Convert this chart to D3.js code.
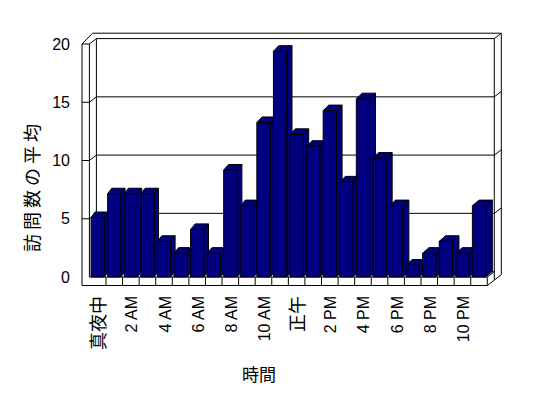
<!DOCTYPE html>
<html>
<head>
<meta charset="utf-8">
<script src="https://cdn.jsdelivr.net/npm/d3@7"></script>
<style>
  body { margin: 0; background: #fff; }
  text { font-family: "Liberation Sans", "Noto Sans CJK JP", sans-serif; fill: #000; }
</style>
</head>
<body>
<svg width="548" height="398"></svg>
<script>
// average visits per hour of the day
const hours = ['真夜中', '1 AM', '2 AM', '3 AM', '4 AM', '5 AM', '6 AM', '7 AM',
               '8 AM', '9 AM', '10 AM', '11 AM', '正午', '1 PM', '2 PM', '3 PM',
               '4 PM', '5 PM', '6 PM', '7 PM', '8 PM', '9 PM', '10 PM', '11 PM'];
const visits = [5, 7, 7, 7, 3, 2, 4, 2, 9, 6, 13, 19, 12, 11, 14, 8, 15, 10, 6, 1, 2, 3, 2, 6];
const yTicks = [0, 5, 10, 15, 20];
const yTitle = '訪問数の平均';
const xTitle = '時間';

// fake 3d: depth offset of walls, wall / floor thickness
const DX = 7, DY = -5.4;
const T = 7.4, FT = 8.5;
const BAR_DY = -5.6;

const svg = d3.select('svg');

const x = d3.scaleBand().domain(hours).range([89.4, 487.3])
            .paddingInner(0.2).paddingOuter(0.1);
const yFront = d3.scaleLinear().domain([0, 20]).range([277, 44]);
// bars sit a bit forward so they come out slightly taller (perspective)
const yBar = d3.scaleLinear().domain([0, 20]).range([277, 39.4]);

const X0 = x.range()[0], X1 = x.range()[1];
const y0 = yFront(0), yTop = yFront(20);

function line(g, pts){
    g.append('path').attr('d', d3.line()(pts))
     .attr('fill', 'none').attr('stroke', '#000').attr('stroke-width', 1);
}

function drawFrame(){
    let g = svg.append('g').attr('class', 'frame');
    // walls / floor white faces
    g.append('path').attr('fill', '#fff').attr('d', d3.line()([
        [X0 - T, yTop], [X0 - T + 1.5*DX, yTop + 2*DY], [X1 + 2*DX, yTop + 2*DY],
        [X1 + 2*DX, y0 + FT + 2*DY], [X1, y0 + FT], [X0 - T, y0 + FT]]) + 'Z');

    // top outline of the wall slabs
    line(g, [[X0 - T, y0 + FT], [X0 - T, yTop], [X0 - T + 1.5*DX, yTop + 2*DY],
             [X1 + 2*DX, yTop + 2*DY], [X1 + DX, yTop + DY]]);
    line(g, [[X0 - T, yTop], [X0, yTop], [X0 + DX, yTop + DY], [X1 + DX, yTop + DY]]);
    // inner edges
    line(g, [[X0, yTop], [X0, y0]]);
    line(g, [[X0 + DX, yTop + DY], [X0 + DX, y0 + DY]]);
    line(g, [[X1 + DX, yTop + DY], [X1 + DX, y0 + FT + DY]]);
    line(g, [[X1 + 2*DX, yTop + 2*DY], [X1 + 2*DX, y0 + FT + 2*DY]]);

    // gridlines: front tick, left wall, back wall, right side of back wall
    yTicks.forEach(v => {
        let yy = yFront(v);
        if (v > 0 && v < 20) {
            line(g, [[X0 - T, yy], [X0, yy]]);
            line(g, [[X0, yy], [X0 + DX, yy + DY], [X1 + DX, yy + DY],
                     [X1 + 2*DX, yy + 2*DY]]);
        }
    });
    line(g, [[X0 + DX, y0 + DY], [X1 + DX, y0 + DY]]);

    // floor slab
    line(g, [[X0, y0], [X1, y0]]);
    line(g, [[X0 - T, y0 + FT], [X1, y0 + FT]]);
    hours.forEach((h, i) => {
        let xx = X0 + x.step() * (i + 1);
        line(g, [[xx, y0], [xx, y0 + FT]]);
    });
    line(g, [[X1, y0], [X1 + DX, y0 + DY]]);
    line(g, [[X1, y0 + FT], [X1 + DX, y0 + FT + DY], [X1 + 2*DX, y0 + FT + 2*DY]]);
}

function drawBars(){
    let w = x.bandwidth();
    // side gets a bit wider to the right, like the original's perspective
    let side = d3.scaleLinear().domain([X0, X1]).range([4, 6.8]);
    let bars = svg.append('g').selectAll('g').data(hours).enter().append('g');
    bars.each(function(h, i){
        let g = d3.select(this);
        let bx = x(h), yt = yBar(visits[i]), yb = yBar(0), dx = side(bx);
        let faces = [
            [[bx, yt], [bx + w, yt], [bx + w + dx, yt + BAR_DY], [bx + dx, yt + BAR_DY]],
            [[bx + w, yt], [bx + w + dx, yt + BAR_DY], [bx + w + dx, yb + BAR_DY], [bx + w, yb]],
            [[bx, yt], [bx + w, yt], [bx + w, yb], [bx, yb]]
        ];
        g.selectAll('path').data(faces).enter().append('path')
         .attr('d', d => d3.line()(d) + 'Z')
         .attr('fill', '#000080').attr('stroke', '#000').attr('stroke-width', 1)
         .attr('stroke-linejoin', 'round');
    });
}

function drawLabels(){
    svg.append('g').selectAll('text').data(yTicks).enter().append('text')
       .attr('x', 70).attr('y', d => yFront(d))
       .attr('text-anchor', 'end').attr('dominant-baseline', 'central')
       .attr('font-size', 16).text(d => d);

    let shown = hours.filter((h, i) => i % 2 === 0);
    svg.append('g').selectAll('text').data(shown).enter().append('text')
       .attr('transform', d => `translate(${x(d) + x.bandwidth()/2 + 1},296) rotate(-90)`)
       .attr('text-anchor', 'end').attr('dominant-baseline', 'central')
       .attr('font-size', d => /[^\x00-\x7f]/.test(d) ? 18 : 16)
       .text(d => d);

    svg.append('text').attr('x', 259).attr('y', 375)
       .attr('text-anchor', 'middle').attr('dominant-baseline', 'central')
       .attr('font-size', 17).text(xTitle);

    // the original spaces these glyphs out quite a bit
    svg.append('text').attr('transform', 'translate(33,186) rotate(-90)')
       .attr('text-anchor', 'middle').attr('dominant-baseline', 'central')
       .attr('font-size', 18).attr('letter-spacing', 4).text(yTitle);
}

drawFrame();
drawBars();
drawLabels();
</script>
</body>
</html>
